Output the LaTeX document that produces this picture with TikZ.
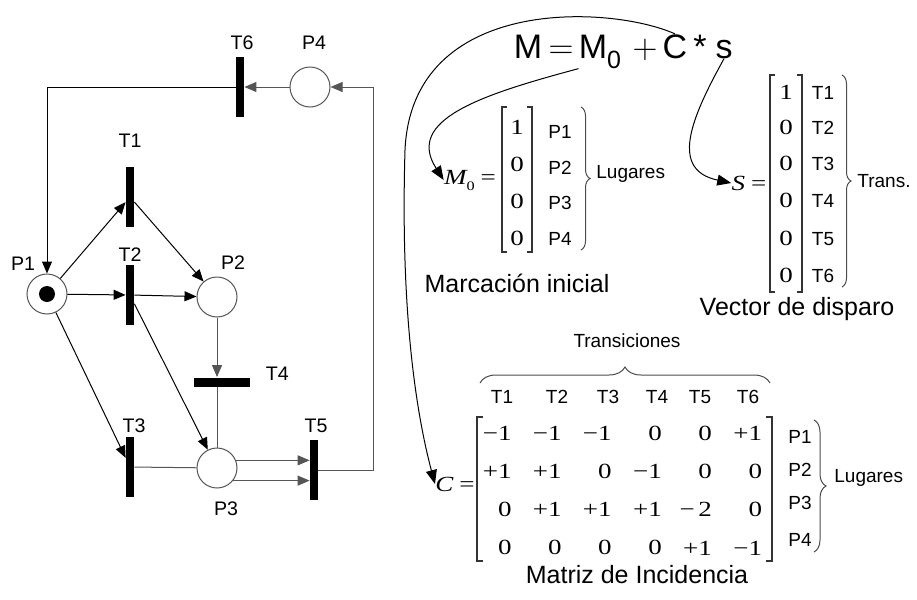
\documentclass[tikz,border=0pt]{standalone}
\usepackage{fontspec}
\setmainfont{Liberation Sans}
\newfontfamily\mathserif[FakeStretch=1.25]{Liberation Serif}
\usetikzlibrary{arrows.meta,decorations.pathreplacing,positioning}
\definecolor{netgray}{HTML}{555555}
\tikzset{
  place/.style={
    circle,
    draw=netgray,
    fill=white,
    line width=0.5pt,
    minimum size=20pt,
    inner sep=0pt
  },
  token/.style={
    circle,
    fill=black,
    minimum size=8pt,
    inner sep=0pt
  },
  vtrans/.style={
    rectangle,
    fill=black,
    minimum width=4pt,
    minimum height=30pt,
    inner sep=0pt
  },
  htrans/.style={
    rectangle,
    fill=black,
    minimum width=28pt,
    minimum height=4.5pt,
    inner sep=0pt
  },
  netarrow/.style={
    -{Triangle[length=6pt,width=5pt]},
    line width=0.5pt,
    draw=black
  },
  netline/.style={
    line width=0.5pt,
    draw=netgray
  },
  eqpart/.style={
    font=\fontsize{17}{20}\selectfont,
    inner sep=0pt,
    anchor=base
  },
  curvearrow/.style={
    -{Triangle[length=7pt,width=5.5pt]},
    line width=0.5pt
  },
  entry/.style={
    font=\mathserif\fontsize{10.8}{12}\selectfont,
    inner sep=0pt
  },
  vecname/.style={
    font=\mathserif\fontsize{10.8}{12}\selectfont,
    inner sep=0pt
  },
  rowlbl/.style={
    font=\fontsize{9.5}{11}\selectfont,
    inner sep=0pt
  },
  captiontext/.style={
    font=\fontsize{12.5}{15}\selectfont,
    inner sep=0pt,
    anchor=base
  },
  bracketline/.style={
    line width=0.6pt,
    draw=black!80
  },
  curlybrace/.style={
    decorate,
    decoration={brace, amplitude=#1},
    line width=0.5pt,
    draw=black!70
  },
  curlybrace/.default=4.5pt
}

\begin{document}
\begin{tikzpicture}[x=0.5pt, y=-0.5pt,
  every label/.append style={font=\fontsize{9.8}{11}\selectfont, inner sep=1pt}]
  \useasboundingbox (0,0) rectangle (917,600);

  % red de Petri
  \node[place, label={[xshift=2.5pt, yshift=3.5pt]135:P1}] (P1) at (47,294) {};
  \node[token] (tok) at (P1.center) {};
  \node[place, label={[xshift=8pt, label distance=2.5pt]above:P2}] (P2) at (217,297) {};
  \node[place, label={[xshift=4.5pt, label distance=5.5pt]below:P3}] (P3) at (217,468) {};
  \node[place, label={[xshift=2pt, label distance=7.5pt]above:P4}] (P4) at (310,87) {};
  \node[vtrans, label={[label distance=8.5pt]above:T1}] (T1) at (130,197) {};
  \node[vtrans, label={[label distance=0.5pt]above:T2}] (T2) at (130,295) {};
  \node[vtrans, label={[xshift=2pt, label distance=1pt]above:T3}] (T3) at (130,467) {};
  \node[htrans, label={[label distance=6.5pt, yshift=4.25pt]right:T4}] (T4) at (222,382) {};
  \node[vtrans, label={[xshift=1pt, label distance=2.5pt]above:T5}] (T5) at (314,470) {};
  \node[vtrans, label={[xshift=1pt, label distance=2.5pt]above:T6}] (T6) at (240,87) {};
  \coordinate (ret) at (373,87);

  \draw[netarrow] (P1) -- (T1);
  \draw[netarrow] (T1) -- (P2);
  \draw[netarrow] (P1) -- (T2);
  \draw[netarrow] (T2) -- (P2);
  \draw[netarrow] (T2) -- (P3);
  \draw[netarrow] (P1) -- (T3);
  \draw[netline] (T3) -- (P3);
  \draw[netarrow, draw=netgray] (P2) -- (P2 |- T4.north);
  \draw[netline] (T4.south -| P3) -- (P3);
  \draw[netarrow, draw=netgray] (P3.22) -- (P3.22 -| T5.west);
  \draw[netarrow, draw=netgray] (P3.-38) -- (P3.-38 -| T5.west);
  \draw[netarrow, draw=netgray] (T5.east) -| (ret) -- (P4);
  \draw[netarrow, draw=netgray] (P4) -- (T6);
  \draw[netarrow] (T6.west) -| (P1);

  % ecuacion de estado
  \node[eqpart] (eqM) at (528,58) {M};
  \node[eqpart] (eqeq) at (561,58) {$=$};
  \node[eqpart] (eqMo) at (600,58) {M\raisebox{-5pt}{\fontsize{12.5}{14}\selectfont 0}};
  \node[eqpart] (eqplus) at (645,58) {$+$};
  \node[eqpart] (eqC) at (675,58) {C};
  \node[eqpart] (eqstar) at (700,58) {*};
  \node[eqpart] (eqs) at (724,58) {s};

  % marcacion inicial
  \node[vecname] (Mo) at (470,180) {\itshape M\raisebox{-3pt}{\upshape\fontsize{6.5}{7}\selectfont 0}\;\upshape=};
  \draw[bracketline] (507,107) -| (502,252) -- (507,252);
  \draw[bracketline] (527,107) -| (532,252) -- (527,252);
  \foreach \v [count=\i] in {1,0,0,0}
    \node[entry] (mo\i) at (517,90+37*\i) {\v};
  \foreach \i in {1,...,4}
    \node[rowlbl] (mop\i) at (560,96.5+35.5*\i) {P\i};
  \draw[curlybrace] (581,107) -- (581,250);
  \node[rowlbl, anchor=west] (molug) at (596,174) {Lugares};
  \node[captiontext] (mocap) at (517,292) {Marcación inicial};

  % vector de disparo
  \node[vecname] (Sv) at (749,183) {\itshape S\;\upshape=};
  \draw[bracketline] (775,75) -| (770,292) -- (775,292);
  \draw[bracketline] (797,75) -| (802,292) -- (797,292);
  \foreach \i/\y in {1/92,2/127,3/163,4/200,5/238,6/275} {
    \node[entry] (sv\i) at (786,\y) {\ifnum\i=1 1\else 0\fi};
    \node[rowlbl] (svt\i) at (823,\y+1) {T\i};
  }
  \draw[curlybrace] (842,75) -- (842,287);
  \node[rowlbl, anchor=west] (svtr) at (857,181) {Trans.};
  \node[captiontext] (svcap) at (797,315) {Vector de disparo};

  % matriz de incidencia
  \node[rowlbl] (trlbl) at (627,341) {Transiciones};
  \draw[curlybrace=8pt] (480,383) -- (770,383);
  \foreach \t/\x in {1/502,2/557,3/608,4/657,5/700,6/748}
    \node[rowlbl] (ct\t) at (\x,397) {T\t};
  \node[vecname] (Cm) at (455,484) {\itshape C\;\upshape=};
  \draw[bracketline] (483,417) -| (477,561) -- (483,561);
  \draw[bracketline] (766,417) -| (772,561) -- (766,561);
  \foreach \vals [count=\r] in {{−1,−1,−1,0,0,+1},{+1,+1,0,−1,0,0},{0,+1,+1,+1,−\,2,0},{0,0,0,0,+1,−1}}
    \foreach \v [count=\c] in \vals
      \node[entry, anchor=east] (c\r\c) at (461.8+50.1*\c,394.7+38.3*\r) {\v};
  \foreach \i/\y in {1/437,2/470,3/503,4/540}
    \node[rowlbl] (cp\i) at (800,\y) {P\i};
  \draw[curlybrace=6pt] (814,420) -- (814,552);
  \node[rowlbl, anchor=west] (clug) at (834,478) {Lugares};
  \node[captiontext] (ccap) at (637,583) {Matriz de Incidencia};

  % flechas de la ecuacion
  \draw[curvearrow] (eqC.north) .. controls (610,5) and (412,-5) .. (405,150)
    .. controls (400,320) and (418,420) .. (Cm.west);
  \draw[curvearrow] (eqMo.south west) .. controls (480,95) and (405,120) .. (Mo.west);
  \draw[curvearrow] (eqs.south) .. controls (690,120) and (670,170) .. (Sv.west);
\end{tikzpicture}
\end{document}
